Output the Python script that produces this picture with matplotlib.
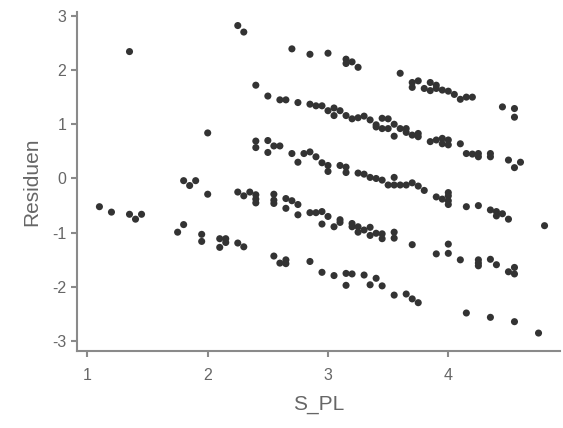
import numpy as np
import matplotlib
matplotlib.use("Agg")
import matplotlib.pyplot as plt

plt.rcParams['font.family'] = ['Liberation Sans', 'DejaVu Sans']
plt.rcParams['axes.unicode_minus'] = False

# residuals, grouped by visible band
top_x = [1.35, 2.25, 2.30, 2.70, 2.85, 3.00, 3.15, 3.15, 3.20, 3.25, 3.60, 3.70, 3.70, 3.75,
         3.80, 3.85, 3.85, 3.90, 3.90, 3.95, 4.00, 4.05, 4.10, 4.15, 4.20, 4.45, 4.55, 4.55]
top_y = [2.34, 2.82, 2.70, 2.39, 2.29, 2.31, 2.20, 2.12, 2.15, 2.05, 1.94, 1.77, 1.68, 1.80,
         1.66, 1.77, 1.62, 1.72, 1.66, 1.63, 1.61, 1.55, 1.46, 1.50, 1.50, 1.32, 1.29, 1.13]

b1_x = [2.00, 2.40, 2.50, 2.60, 2.65, 2.75, 2.85, 2.90, 2.95, 3.00, 3.05, 3.05, 3.10, 3.15, 3.20,
        3.25, 3.30, 3.35, 3.40, 3.40, 3.45, 3.50, 3.45, 3.50, 3.55, 3.55, 3.60, 3.65, 3.65, 3.70,
        3.75, 3.75, 3.85, 3.90, 3.95, 3.95, 4.00, 4.00, 4.10, 4.15, 4.20, 4.25, 4.25, 4.35, 4.35,
        4.50, 4.55, 4.60]
b1_y = [0.84, 1.72, 1.52, 1.45, 1.45, 1.40, 1.37, 1.34, 1.34, 1.25, 1.30, 1.16, 1.25, 1.16, 1.10,
        1.12, 1.15, 1.08, 0.99, 0.95, 1.11, 1.10, 0.92, 0.92, 1.00, 0.78, 0.92, 0.92, 0.85, 0.80,
        0.83, 0.77, 0.68, 0.71, 0.74, 0.64, 0.71, 0.62, 0.64, 0.46, 0.45, 0.46, 0.40, 0.46, 0.40,
        0.34, 0.20, 0.30]

b2_x = [1.80, 1.85, 1.90, 2.00, 2.40, 2.40, 2.50, 2.50, 2.55, 2.60, 2.70, 2.75, 2.80, 2.85, 2.90,
        2.95, 3.00, 3.00, 3.10, 3.15, 3.15, 3.25, 3.30, 3.35, 3.40, 3.45, 3.50, 3.55, 3.55, 3.60,
        3.65, 3.70, 3.75, 3.80, 3.90, 3.95, 4.00, 4.00, 4.00, 4.00, 4.15, 4.25, 4.35, 4.40, 4.40,
        4.45, 4.50, 4.80]
b2_y = [-0.04, -0.13, -0.04, -0.29, 0.69, 0.57, 0.70, 0.48, 0.60, 0.60, 0.46, 0.30, 0.46, 0.49, 0.40,
        0.29, 0.24, 0.13, 0.24, 0.21, 0.11, 0.10, 0.08, 0.02, 0.00, -0.03, -0.12, 0.02, -0.12, -0.12,
        -0.12, -0.08, -0.14, -0.22, -0.34, -0.38, -0.26, -0.32, -0.41, -0.48, -0.52, -0.50, -0.58, -0.61, -0.69,
        -0.65, -0.75, -0.87]

b3_x = [1.10, 1.20, 1.35, 1.40, 1.45, 1.75, 1.80, 1.95, 1.95, 2.10, 2.10, 2.15, 2.15,
        2.25, 2.30, 2.35, 2.40, 2.40, 2.40, 2.55, 2.55, 2.55, 2.65, 2.65, 2.70, 2.75, 2.75, 2.85,
        2.90, 2.95, 2.95, 3.00, 3.05, 3.10, 3.10, 3.20, 3.20, 3.25, 3.25, 3.30, 3.35, 3.35, 3.40,
        3.45, 3.45, 3.55, 3.55, 3.70, 3.90, 4.00, 4.00, 4.10, 4.25, 4.25, 4.25, 4.35, 4.40, 4.50,
        4.55, 4.55]
b3_y = [-0.52, -0.62, -0.66, -0.75, -0.66, -0.99, -0.85, -1.03, -1.16, -1.11, -1.27, -1.11, -1.18,
        -0.25, -0.32, -0.25, -0.30, -0.38, -0.45, -0.29, -0.40, -0.46, -0.37, -0.55, -0.41, -0.48, -0.67, -0.63,
        -0.63, -0.61, -0.84, -0.70, -0.89, -0.81, -0.76, -0.83, -0.89, -0.89, -0.99, -0.95, -0.90, -1.05, -1.01,
        -1.02, -1.11, -0.99, -1.10, -1.22, -1.39, -1.21, -1.38, -1.50, -1.50, -1.56, -1.61, -1.49, -1.59, -1.72,
        -1.64, -1.76]

b4_x = [2.25, 2.30, 2.55, 2.60, 2.65, 2.65, 2.85, 2.95, 3.05, 3.15, 3.15, 3.20, 3.30, 3.35,
        3.40, 3.45, 3.55, 3.65, 3.70, 3.75, 4.15, 4.35, 4.55, 4.75]
b4_y = [-1.19, -1.26, -1.43, -1.56, -1.50, -1.57, -1.53, -1.73, -1.79, -1.75, -1.97, -1.76, -1.78, -1.96,
        -1.84, -1.98, -2.15, -2.13, -2.22, -2.29, -2.48, -2.56, -2.64, -2.85]

s_pl = np.array(top_x + b1_x + b2_x + b3_x + b4_x)
resid = np.array(top_y + b1_y + b2_y + b3_y + b4_y)

fig = plt.figure(figsize=(5.63, 4.28), dpi=100)
ax = fig.add_axes([0.136, 0.18, 0.859, 0.792])

ax.scatter(s_pl, resid, s=26, color='#333333', edgecolors='none', zorder=3)

ax.set_xlim(0.91, 4.93)
ax.set_ylim(-3.18, 3.07)
ax.set_xticks([1, 2, 3, 4])
ax.set_yticks([-3, -2, -1, 0, 1, 2, 3])

for side in ['top', 'right']:
    ax.spines[side].set_visible(False)
for side in ['left', 'bottom']:
    ax.spines[side].set_color('#8a8a8a')
    ax.spines[side].set_linewidth(1.5)

ax.tick_params(axis='both', colors='#8a8a8a', labelcolor='#666666', labelsize=11.5,
               length=4, width=1.5, direction='out')
ax.tick_params(axis='x', pad=8)

ax.set_xlabel('S_PL', fontsize=15, color='#666666', labelpad=9)
ax.set_ylabel('Residuen', fontsize=15, color='#666666', labelpad=8)

fig.savefig('out.png', dpi=100)
